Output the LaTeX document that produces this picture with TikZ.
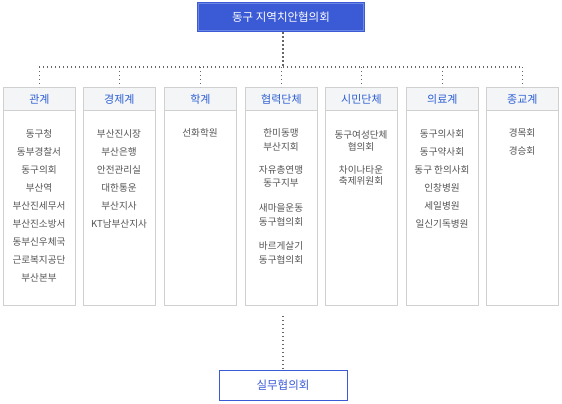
\documentclass[tikz,border=0pt]{standalone}
\usepackage{fontspec}
\setmainfont{Noto Sans CJK KR}
\definecolor{topblue}{HTML}{3A5AD6}
\definecolor{topinner}{HTML}{6C88E4}
\definecolor{hdrblue}{HTML}{2D5FD3}
\definecolor{hdrfill}{HTML}{F4F5F7}
\definecolor{boxline}{HTML}{D0D0D0}
\definecolor{itemgray}{HTML}{555555}
\definecolor{dotgray}{HTML}{666666}
\begin{document}
\begin{tikzpicture}[x=1pt,y=-1pt,
  topbox/.style={fill=topblue,draw=none,text=white,font=\fontsize{11.5}{13}\selectfont,inner sep=0pt},
  colbox/.style={draw=boxline,fill=white,line width=0.8pt,inner sep=0pt,minimum width=72pt,minimum height=218pt,anchor=north west},
  headbox/.style={draw=boxline,fill=hdrfill,line width=0.8pt,inner sep=0pt,minimum width=72pt,minimum height=23pt,anchor=north west,text=hdrblue,font=\fontsize{11}{13}\selectfont},
  item/.style={anchor=base,inner sep=0pt,text=itemgray,font=\fontsize{9.6}{11}\selectfont},
  dots/.style={draw=dotgray,line width=1.4pt,dash pattern=on 1.4pt off 2.6pt},
  subbox/.style={draw=topblue,line width=1pt,fill=white,text=topblue,font=\fontsize{11.5}{13}\selectfont,inner sep=0pt,minimum width=128pt,minimum height=30pt}]
\useasboundingbox (0,0) rectangle (562,404);

% top box
\node[topbox,minimum width=168pt,minimum height=30pt] (top) at (281,17) {동구 지역치안협의회};
\draw[topinner,line width=0.8pt] ([xshift=1.5pt,yshift=-1.5pt]top.north west) rectangle ([xshift=-1.5pt,yshift=1.5pt]top.south east);

% columns
\foreach \l [count=\i] in {3,83,164,245,325,406,486}{
  \node[colbox] (c\i) at (\l,87) {};
}
\node[headbox] (h1) at (3,87) {관계};
\node[headbox] (h2) at (83,87) {경제계};
\node[headbox] (h3) at (164,87) {학계};
\node[headbox] (h4) at (245,87) {협력단체};
\node[headbox] (h5) at (325,87) {시민단체};
\node[headbox] (h6) at (406,87) {의료계};
\node[headbox] (h7) at (486,87) {종교계};

% connectors
\coordinate (j) at (283,67);
\coordinate (L) at (39,67);
\coordinate (R) at (522,67);
\draw[dots] (top.south -| j) -- (j);
\draw[dots] (L) -- (R);
\foreach \i in {1,...,7}{
  \draw[dots] (h\i.north |- j) -- (h\i.north);
}

% items column 1
\foreach \t [count=\k] in {동구청,동부경찰서,동구의회,부산역,부산진세무서,부산진소방서,동부신우체국,근로복지공단,부산본부}{
  \node[item] (a\k) at (39,{137.7+18*(\k-1)}) {\t};
}
% column 2
\foreach \t [count=\k] in {부산진시장,부산은행,안전관리실,대한통운,부산지사,KT남부산지사}{
  \node[item] (b\k) at (119,{137.7+18*(\k-1)}) {\t};
}
% column 3
\node[item] (d1) at (200,136.7) {선화학원};
% column 4
\node[item] (e1) at (281,136.7) {한미동맹};
\node[item] (e2) at (281,150.7) {부산지회};
\node[item] (e3) at (281,173.7) {자유총연맹};
\node[item] (e4) at (281,186.7) {동구지부};
\node[item] (e5) at (281,211.7) {새마을운동};
\node[item] (e6) at (281,225.7) {동구협의회};
\node[item] (e7) at (281,249.7) {바르게살기};
\node[item] (e8) at (281,263.7) {동구협의회};
% column 5
\node[item] (f1) at (361,138.2) {동구여성단체};
\node[item] (f2) at (361,150.7) {협의회};
\node[item] (f3) at (361,173.7) {차이나타운};
\node[item] (f4) at (361,184.7) {축제위원회};
% column 6
\foreach \t [count=\k] in {동구의사회,동구약사회,동구 한의사회,인창병원,세일병원,일신기독병원}{
  \node[item] (g\k) at (442,{137.7+18*(\k-1)}) {\t};
}
% column 7
\node[item] (k1) at (522,136.7) {경목회};
\node[item] (k2) at (522,154.7) {경승회};

% bottom box
\node[subbox] (sub) at (283,385) {실무협의회};
\draw[dots] ([yshift=-10pt]c4.south -| sub.north) -- (sub.north);
\end{tikzpicture}
\end{document}
